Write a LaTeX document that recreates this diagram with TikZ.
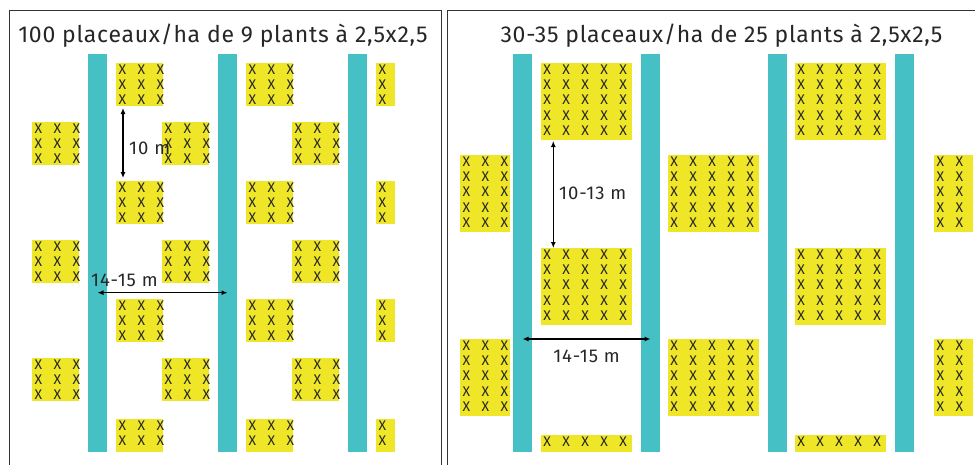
\documentclass[tikz,border=0pt]{standalone}
\usepackage{fontspec}
\setmainfont{Fira Sans}
\newfontfamily\titlefont{Fira Sans}[LetterSpace=3.2]
\usetikzlibrary{positioning, arrows.meta, calc}
\definecolor{allee}{HTML}{45C1C5}
\definecolor{jaune}{HTML}{EEE627}
\tikzset{
    plot/.style={fill=jaune, inner sep=0pt, outer sep=0pt, anchor=north west},
    plant/.style={font=\fontsize{14}{15}\selectfont, text=black!85, inner sep=0pt},
    bande/.style={fill=allee, inner sep=0pt, outer sep=0pt, minimum width=18.6pt, minimum height=398pt, anchor=north},
    cadre/.style={draw=black!80, line width=1pt},
    cote/.style={line width=1.1pt, {Latex[length=6pt,width=5pt]}-{Latex[length=6pt,width=5pt]}},
    cotelabel/.style={font=\fontsize{18.5}{20}\selectfont\addfontfeatures{LetterSpace=5}, text=black!85, inner sep=0pt},
    titre/.style={font=\titlefont\fontsize{23}{24}\selectfont, text=black!85, inner sep=0pt, anchor=base}
}
% #1 nom, #2 x, #3 y, #4 largeur, #5 hauteur, #6 colonnes, #7 rangs
\newcommand{\placeau}[7]{
    \node[plot, minimum width=#4, minimum height=#5] (#1) at (#2,#3) {};
    \foreach \c in {1,...,#6}{
        \foreach \r in {1,...,#7}{
            \node[plant] (#1-\c-\r) at ([shift={({6.5+19*(\c-1)},{6.5+15.3*(\r-1)})}]#1.north west) {X};
        }
    }
}

\begin{document}
\begin{tikzpicture}[x=1pt, y=-1pt]
    \useasboundingbox (0,0) rectangle (975,464);
    \clip (0,0) rectangle (975,464);

    % cadres
    \draw[cadre] (9.3,480) |- (441,10.7) -- (441,480);
    \draw[cadre] (447,480) |- (990,10.7);

    \node[titre] (t1) at (223,42.5) {100 placeaux/ha de 9 plants à 2,5x2,5};
    \node[titre] (t2) at (721.5,42.5) {30-35 placeaux/ha de 25 plants à 2,5x2,5};

    % 9 plants
    \foreach \x [count=\i] in {97.5,227.5,357.5}
        \node[bande] (b1-\i) at (\x,54) {};
    \foreach \x/\n/\w [count=\i] in {116/3/47,246/3/47,376/1/19}{
        \foreach \y [count=\j] in {63,181,299}{
            \placeau{pA\i-\j}{\x}{\y}{\w}{43}{\n}{3}
        }
        \placeau{pA\i-4}{\x}{419}{\w}{33}{\n}{2}
    }
    \foreach \x [count=\i] in {32,162,292}{
        \foreach \y [count=\j] in {122,240,358}{
            \placeau{pB\i-\j}{\x}{\y}{47}{43}{3}{3}
        }
    }

    \draw[cote, shorten <=2pt, shorten >=3pt] ([xshift=7pt]pA1-1.south west) -- ([xshift=7pt]pA1-2.north west);
    \node[cotelabel, anchor=west] (c10) at (129,148) {10 m};
    \draw[cote] ([yshift=-39.7pt]b1-1.center) -- ([yshift=-39.7pt]b1-2.center);
    \node[cotelabel, anchor=west] (c14a) at (91,280) {14-15 m};

    % 25 plants
    \foreach \x [count=\i] in {522.5,650.5,777.5,904.5}
        \node[bande] (b2-\i) at (\x,54) {};
    \foreach \x [count=\i] in {540.7,794.7}{
        \placeau{pC\i-1}{\x}{63}{91.6}{77}{5}{5}
        \placeau{pC\i-2}{\x}{248}{91.6}{77}{5}{5}
        \placeau{pC\i-3}{\x}{435}{91.6}{17}{5}{1}
    }
    \foreach \x/\n/\w [count=\i] in {460/3/50.3,667.7/5/91.6,934/2/39}{
        \foreach \y [count=\j] in {155,339}{
            \placeau{pD\i-\j}{\x}{\y}{\w}{77}{\n}{5}
        }
    }

    \draw[cote, shorten <=1pt] ([xshift=12.6pt]pC1-1.south west) -- ([xshift=12.6pt]pC1-2.north west);
    \node[cotelabel, anchor=west] (c1013) at (559,193) {10-13 m};
    \draw[cote] ([yshift=-86pt]b2-1.center) -- ([yshift=-86pt]b2-2.center);
    \node[cotelabel] (c14b) at (586.5,356.7) {14-15 m};
\end{tikzpicture}
\end{document}
